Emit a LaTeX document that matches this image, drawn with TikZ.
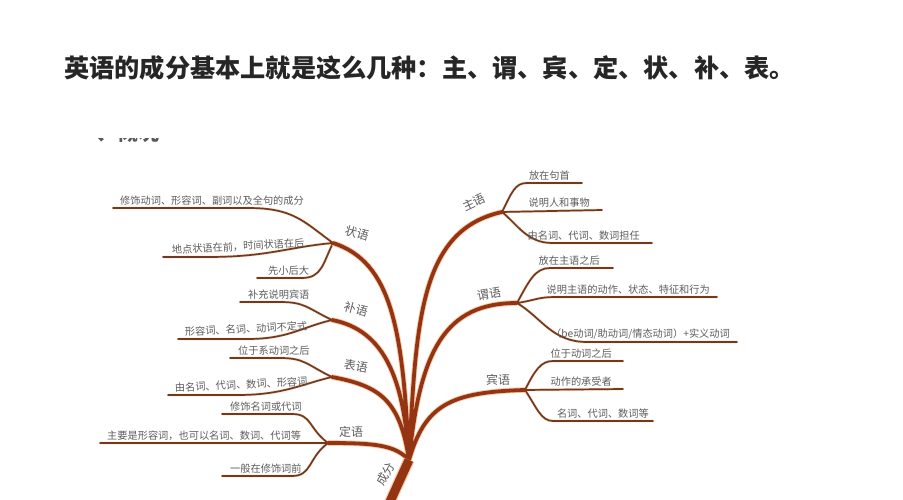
\documentclass[tikz,border=0pt]{standalone}
\usepackage{fontspec}
\newfontfamily\cjk{Noto Sans CJK SC}
\usetikzlibrary{positioning}
\definecolor{barkc}{RGB}{148,52,18}
\definecolor{glowc}{RGB}{246,205,172}
\definecolor{twigc}{RGB}{112,58,32}
\definecolor{inkc}{RGB}{92,92,92}
\tikzset{%
	trunk/.style={draw=barkc, line width=9pt, preaction={draw=glowc, line width=11.5pt}},
	limb/.style={draw=barkc, line width=3.8pt, line cap=round, preaction={draw=glowc, line width=5.6pt}},
	twig/.style={draw=twigc, line width=1.7pt, line cap=round, preaction={draw=glowc!70, line width=2.8pt}},
	leaf/.style={text=inkc, inner sep=0pt, font=\cjk\fontsize{10.2}{11}\selectfont},
	tag/.style={text=inkc, inner sep=0pt, font=\cjk\fontsize{12}{12}\selectfont},
	title/.style={text=black!85, inner sep=0pt, font=\cjk\bfseries\fontsize{25.2}{27}\selectfont}
}
\begin{document}
\begin{tikzpicture}[x=1pt, y=-1pt, node distance=2pt and 7pt]
	\useasboundingbox (0,0) rectangle (903,500);
	\node[title, anchor=west] (title) at (64,68) {英语的成分基本上就是这么几种：主、谓、宾、定、状、补、表。};
	\begin{scope}
		\clip (70,138.5) rectangle (170,142.5);
		\node[title, text=black!65, font=\cjk\bfseries\fontsize{21}{21}\selectfont, anchor=base west] (sec) at (75,141) {一、概况};
	\end{scope}

	\coordinate (root) at (389,504);
	\coordinate (mid) at (409,460);
	\coordinate (zl) at (333,243);
	\coordinate (bu) at (332,320);
	\coordinate (bi) at (332,377);
	\coordinate (dy) at (328,443);
	\coordinate (zy) at (502,212);
	\coordinate (wy) at (517,303);
	\coordinate (by) at (525,390);

	\coordinate (zl1) at (113,208);
	\coordinate (zl2) at (163,257);
	\coordinate (zl3) at (257,278);
	\coordinate (bu1) at (240,302);
	\coordinate (bu2) at (178,339);
	\coordinate (bi1) at (230,358);
	\coordinate (bi2) at (168,395);
	\coordinate (dy1) at (222,414);
	\coordinate (dy2) at (100,443);
	\coordinate (dy3) at (222,476);
	\coordinate (zy1) at (582,183);
	\coordinate (zy2) at (602,210);
	\coordinate (zy3) at (652,243);
	\coordinate (wy1) at (613,268);
	\coordinate (wy2) at (717,297);
	\coordinate (wy3) at (737,342);
	\coordinate (by1) at (623,361);
	\coordinate (by2) at (623,389);
	\coordinate (by3) at (653,421);

	\draw[twig] (zl1) -- ++(135,0) .. controls +(45,0) and +(-30,-22) .. (zl)
		(zl2) -- ++(45,0) .. controls +(60,0) and +(-45,4) .. (zl)
		(zl3) -- ++(45,0) .. controls +(20,0) and +(-10,20) .. (zl)
		(bu1) -- ++(40,0) .. controls +(25,0) and +(-25,-12) .. (bu)
		(bu2) -- ++(70,0) .. controls +(40,0) and +(-30,7) .. (bu)
		(bi1) -- ++(50,0) .. controls +(25,0) and +(-25,-12) .. (bi)
		(bi2) -- ++(70,0) .. controls +(45,0) and +(-30,7) .. (bi)
		(dy1) -- ++(70,0) .. controls +(20,0) and +(-20,-15) .. (dy)
		(dy2) -- (dy)
		(dy3) -- ++(70,0) .. controls +(20,0) and +(-20,15) .. (dy)
		(zy1) -- ++(-55,0) .. controls +(-12,0) and +(10,-20) .. (zy)
		(zy2) -- (zy)
		(zy3) -- ++(-100,0) .. controls +(-25,0) and +(15,12) .. (zy)
		(wy1) -- ++(-63,0) .. controls +(-15,0) and +(12,-22) .. (wy)
		(wy2) -- ++(-160,0) .. controls +(-20,0) and +(20,-3) .. (wy)
		(wy3) -- ++(-150,0) .. controls +(-35,0) and +(25,15) .. (wy)
		(by1) -- ++(-70,0) .. controls +(-12,0) and +(10,-20) .. (by)
		(by2) -- (by)
		(by3) -- ++(-100,0) .. controls +(-12,0) and +(12,18) .. (by);

	\draw[limb] (mid) .. controls (403,330) and (392,262) .. (zl)
		(mid) .. controls (404,380) and (385,330) .. (bu)
		(mid) .. controls (400,400) and (380,386) .. (bi)
		(mid) .. controls (395,445) and (375,443) .. (dy)
		(mid) .. controls (416,320) and (420,230) .. (zy)
		(mid) .. controls (420,350) and (445,303) .. (wy)
		(mid) .. controls (425,405) and (450,392) .. (by);
	\draw[trunk] (root) .. controls (398,484) .. (mid);

	\node[leaf, above right=of zl1] (zl1-t) {修饰动词、形容词、副词以及全句的成分};
	\node[leaf, above right=2pt and 9pt of zl2, rotate=3] (zl2-t) {地点状语在前，时间状语在后};
	\node[leaf, above right=2pt and 11pt of zl3] (zl3-t) {先小后大};
	\node[leaf, above right=2pt and 8pt of bu1] (bu1-t) {补充说明宾语};
	\node[leaf, above right=of bu2, rotate=3] (bu2-t) {形容词、名词、动词不定式};
	\node[leaf, above right=2pt and 8pt of bi1] (bi1-t) {位于系动词之后};
	\node[leaf, above right=of bi2, rotate=3] (bi2-t) {由名词、代词、数词、形容词};
	\node[leaf, above right=2pt and 8pt of dy1] (dy1-t) {修饰名词或代词};
	\node[leaf, above right=of dy2] (dy2-t) {主要是形容词，也可以名词、数词、代词等};
	\node[leaf, above right=2pt and 8pt of dy3] (dy3-t) {一般在修饰词前};
	\node[leaf, above left=2pt and 12pt of zy1] (zy1-t) {放在句首};
	\node[leaf, above left=2pt and 12pt of zy2] (zy2-t) {说明人和事物};
	\node[leaf, above left=2pt and 12pt of zy3] (zy3-t) {由名词、代词、数词担任};
	\node[leaf, above left=2pt and 13pt of wy1] (wy1-t) {放在主语之后};
	\node[leaf, above left=of wy2] (wy2-t) {说明主语的动作、状态、特征和行为};
	\node[leaf, above left=of wy3] (wy3-t) {（be动词/助动词/情态动词）+实义动词};
	\node[leaf, above left=2pt and 11pt of by1] (by1-t) {位于动词之后};
	\node[leaf, above left=2pt and 11pt of by2] (by2-t) {动作的承受者};
	\node[leaf, above left=2pt and 4pt of by3] (by3-t) {名词、代词、数词等};

	\node[tag, rotate=-15] (zl-t) at (357,233) {状语};
	\node[tag, rotate=-15] (bu-t) at (356,309) {补语};
	\node[tag, rotate=-10] (bi-t) at (356,366) {表语};
	\node[tag] (dy-t) at (351,432) {定语};
	\node[tag, rotate=25] (zy-t) at (474,202) {主语};
	\node[tag, rotate=10] (wy-t) at (489,294) {谓语};
	\node[tag] (by-t) at (498,380) {宾语};
	\node[tag, rotate=60] (root-t) at (386,474) {成分};
\end{tikzpicture}
\end{document}
